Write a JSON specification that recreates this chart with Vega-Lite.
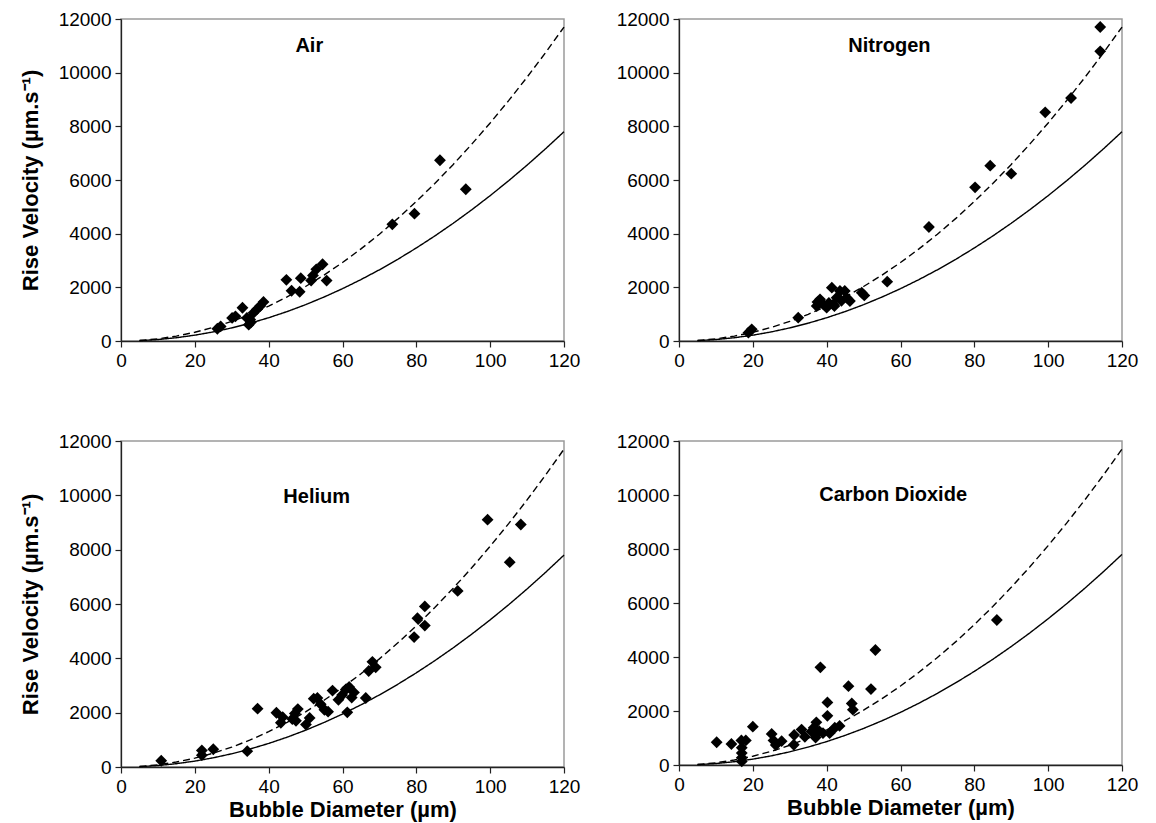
{
  "$schema": "https://vega.github.io/schema/vega-lite/v6.json",
  "background": "white",
  "padding": {"left": 18, "top": 9, "right": 5, "bottom": 2},
  "bounds": "flush",
  "columns": 2,
  "spacing": {"row": 100, "column": 115},
  "config": {
    "view": {"stroke": "#9a9a9a", "strokeWidth": 1.5},
    "font": "Liberation Sans",
    "axis": {
      "grid": false,
      "domainColor": "#222",
      "domainWidth": 1.3,
      "tickColor": "#222",
      "tickWidth": 1.2,
      "tickSize": 6,
      "labelPadding": 4,
      "labelFont": "Liberation Sans",
      "labelFontSize": 19,
      "labelColor": "black",
      "labelFlush": false,
      "labelOverlap": false,
      "titleFont": "Liberation Sans",
      "titleFontSize": 22,
      "titleFontWeight": "bold",
      "titleColor": "black"
    }
  },
  "datasets": {
    "curves": [
      {"d": 5, "v": 14, "model": "Stokes"}, {"d": 10, "v": 54, "model": "Stokes"}, {"d": 15, "v": 122, "model": "Stokes"}, {"d": 20, "v": 217, "model": "Stokes"}, {"d": 25, "v": 339, "model": "Stokes"}, {"d": 30, "v": 488, "model": "Stokes"}, {"d": 35, "v": 664, "model": "Stokes"}, {"d": 40, "v": 867, "model": "Stokes"}, {"d": 45, "v": 1097, "model": "Stokes"}, {"d": 50, "v": 1354, "model": "Stokes"}, {"d": 55, "v": 1639, "model": "Stokes"}, {"d": 60, "v": 1950, "model": "Stokes"}, {"d": 65, "v": 2289, "model": "Stokes"}, {"d": 70, "v": 2654, "model": "Stokes"}, {"d": 75, "v": 3047, "model": "Stokes"}, {"d": 80, "v": 3467, "model": "Stokes"}, {"d": 85, "v": 3914, "model": "Stokes"}, {"d": 90, "v": 4388, "model": "Stokes"}, {"d": 95, "v": 4889, "model": "Stokes"}, {"d": 100, "v": 5417, "model": "Stokes"}, {"d": 105, "v": 5972, "model": "Stokes"}, {"d": 110, "v": 6554, "model": "Stokes"}, {"d": 115, "v": 7164, "model": "Stokes"}, {"d": 120, "v": 7800, "model": "Stokes"},
      {"d": 5, "v": 20, "model": "Hadamard"}, {"d": 10, "v": 81, "model": "Hadamard"}, {"d": 15, "v": 183, "model": "Hadamard"}, {"d": 20, "v": 325, "model": "Hadamard"}, {"d": 25, "v": 508, "model": "Hadamard"}, {"d": 30, "v": 731, "model": "Hadamard"}, {"d": 35, "v": 995, "model": "Hadamard"}, {"d": 40, "v": 1300, "model": "Hadamard"}, {"d": 45, "v": 1645, "model": "Hadamard"}, {"d": 50, "v": 2031, "model": "Hadamard"}, {"d": 55, "v": 2458, "model": "Hadamard"}, {"d": 60, "v": 2925, "model": "Hadamard"}, {"d": 65, "v": 3433, "model": "Hadamard"}, {"d": 70, "v": 3981, "model": "Hadamard"}, {"d": 75, "v": 4570, "model": "Hadamard"}, {"d": 80, "v": 5200, "model": "Hadamard"}, {"d": 85, "v": 5870, "model": "Hadamard"}, {"d": 90, "v": 6581, "model": "Hadamard"}, {"d": 95, "v": 7333, "model": "Hadamard"}, {"d": 100, "v": 8125, "model": "Hadamard"}, {"d": 105, "v": 8958, "model": "Hadamard"}, {"d": 110, "v": 9831, "model": "Hadamard"}, {"d": 115, "v": 10745, "model": "Hadamard"}, {"d": 120, "v": 11700, "model": "Hadamard"}
    ],
    "labels": [
      {"gas": "Air", "d": 51, "v": 11000},
      {"gas": "Nitrogen", "d": 57, "v": 11000},
      {"gas": "Helium", "d": 53, "v": 9950},
      {"gas": "Carbon Dioxide", "d": 58, "v": 10000}
    ],
    "pts": [
      {"gas": "Air", "d": 26.1, "v": 456}, {"gas": "Air", "d": 27.0, "v": 544}, {"gas": "Air", "d": 30.1, "v": 861}, {"gas": "Air", "d": 31.0, "v": 920}, {"gas": "Air", "d": 32.9, "v": 1240}, {"gas": "Air", "d": 34.6, "v": 608}, {"gas": "Air", "d": 35.2, "v": 700}, {"gas": "Air", "d": 34.1, "v": 861}, {"gas": "Air", "d": 35.0, "v": 797}, {"gas": "Air", "d": 35.9, "v": 1051}, {"gas": "Air", "d": 36.8, "v": 1177}, {"gas": "Air", "d": 37.7, "v": 1304}, {"gas": "Air", "d": 38.6, "v": 1456}, {"gas": "Air", "d": 44.8, "v": 2278}, {"gas": "Air", "d": 46.2, "v": 1873}, {"gas": "Air", "d": 48.4, "v": 1835}, {"gas": "Air", "d": 48.7, "v": 2342}, {"gas": "Air", "d": 51.5, "v": 2253}, {"gas": "Air", "d": 52.0, "v": 2443}, {"gas": "Air", "d": 52.9, "v": 2671}, {"gas": "Air", "d": 54.6, "v": 2861}, {"gas": "Air", "d": 55.7, "v": 2253}, {"gas": "Air", "d": 73.5, "v": 4348}, {"gas": "Air", "d": 79.5, "v": 4745}, {"gas": "Air", "d": 86.4, "v": 6735}, {"gas": "Air", "d": 93.4, "v": 5654},
      {"gas": "Nitrogen", "d": 19.7, "v": 435}, {"gas": "Nitrogen", "d": 18.8, "v": 311}, {"gas": "Nitrogen", "d": 32.3, "v": 870}, {"gas": "Nitrogen", "d": 38.2, "v": 1553}, {"gas": "Nitrogen", "d": 37.3, "v": 1304}, {"gas": "Nitrogen", "d": 39.1, "v": 1366}, {"gas": "Nitrogen", "d": 41.4, "v": 1988}, {"gas": "Nitrogen", "d": 40.0, "v": 1242}, {"gas": "Nitrogen", "d": 41.8, "v": 1366}, {"gas": "Nitrogen", "d": 42.7, "v": 1615}, {"gas": "Nitrogen", "d": 43.6, "v": 1863}, {"gas": "Nitrogen", "d": 44.9, "v": 1863}, {"gas": "Nitrogen", "d": 45.4, "v": 1615}, {"gas": "Nitrogen", "d": 46.3, "v": 1491}, {"gas": "Nitrogen", "d": 49.5, "v": 1801}, {"gas": "Nitrogen", "d": 37.5, "v": 1450}, {"gas": "Nitrogen", "d": 40.6, "v": 1420}, {"gas": "Nitrogen", "d": 42.1, "v": 1300}, {"gas": "Nitrogen", "d": 44.0, "v": 1500}, {"gas": "Nitrogen", "d": 50.2, "v": 1700}, {"gas": "Nitrogen", "d": 56.4, "v": 2211}, {"gas": "Nitrogen", "d": 67.7, "v": 4248}, {"gas": "Nitrogen", "d": 80.2, "v": 5727}, {"gas": "Nitrogen", "d": 84.3, "v": 6534}, {"gas": "Nitrogen", "d": 90.0, "v": 6236}, {"gas": "Nitrogen", "d": 99.2, "v": 8522}, {"gas": "Nitrogen", "d": 106.2, "v": 9056}, {"gas": "Nitrogen", "d": 114.1, "v": 10795}, {"gas": "Nitrogen", "d": 114.1, "v": 11702},
      {"gas": "Helium", "d": 10.9, "v": 231}, {"gas": "Helium", "d": 21.9, "v": 611}, {"gas": "Helium", "d": 21.9, "v": 435}, {"gas": "Helium", "d": 25.0, "v": 652}, {"gas": "Helium", "d": 34.2, "v": 584}, {"gas": "Helium", "d": 37.0, "v": 2147}, {"gas": "Helium", "d": 42.1, "v": 1997}, {"gas": "Helium", "d": 43.3, "v": 1630}, {"gas": "Helium", "d": 43.8, "v": 1834}, {"gas": "Helium", "d": 46.4, "v": 1766}, {"gas": "Helium", "d": 47.1, "v": 1970}, {"gas": "Helium", "d": 47.9, "v": 2133}, {"gas": "Helium", "d": 47.4, "v": 1698}, {"gas": "Helium", "d": 50.1, "v": 1562}, {"gas": "Helium", "d": 51.1, "v": 1807}, {"gas": "Helium", "d": 52.2, "v": 2514}, {"gas": "Helium", "d": 53.2, "v": 2541}, {"gas": "Helium", "d": 54.1, "v": 2310}, {"gas": "Helium", "d": 55.1, "v": 2106}, {"gas": "Helium", "d": 56.1, "v": 2038}, {"gas": "Helium", "d": 57.3, "v": 2813}, {"gas": "Helium", "d": 58.9, "v": 2473}, {"gas": "Helium", "d": 59.9, "v": 2649}, {"gas": "Helium", "d": 60.9, "v": 2853}, {"gas": "Helium", "d": 61.3, "v": 2011}, {"gas": "Helium", "d": 61.8, "v": 2948}, {"gas": "Helium", "d": 62.5, "v": 2554}, {"gas": "Helium", "d": 63.1, "v": 2745}, {"gas": "Helium", "d": 66.3, "v": 2541}, {"gas": "Helium", "d": 67.1, "v": 3533}, {"gas": "Helium", "d": 68.1, "v": 3872}, {"gas": "Helium", "d": 69.0, "v": 3668}, {"gas": "Helium", "d": 79.4, "v": 4783}, {"gas": "Helium", "d": 80.3, "v": 5476}, {"gas": "Helium", "d": 82.3, "v": 5204}, {"gas": "Helium", "d": 82.3, "v": 5910}, {"gas": "Helium", "d": 91.2, "v": 6481}, {"gas": "Helium", "d": 99.3, "v": 9103}, {"gas": "Helium", "d": 105.3, "v": 7541}, {"gas": "Helium", "d": 108.3, "v": 8927},
      {"gas": "Carbon Dioxide", "d": 10.2, "v": 844}, {"gas": "Carbon Dioxide", "d": 14.2, "v": 777}, {"gas": "Carbon Dioxide", "d": 16.9, "v": 911}, {"gas": "Carbon Dioxide", "d": 18.1, "v": 911}, {"gas": "Carbon Dioxide", "d": 17.0, "v": 643}, {"gas": "Carbon Dioxide", "d": 17.0, "v": 442}, {"gas": "Carbon Dioxide", "d": 17.0, "v": 268}, {"gas": "Carbon Dioxide", "d": 17.0, "v": 134}, {"gas": "Carbon Dioxide", "d": 20.0, "v": 1420}, {"gas": "Carbon Dioxide", "d": 25.1, "v": 1152}, {"gas": "Carbon Dioxide", "d": 25.6, "v": 911}, {"gas": "Carbon Dioxide", "d": 26.2, "v": 737}, {"gas": "Carbon Dioxide", "d": 27.8, "v": 884}, {"gas": "Carbon Dioxide", "d": 31.2, "v": 1112}, {"gas": "Carbon Dioxide", "d": 31.1, "v": 750}, {"gas": "Carbon Dioxide", "d": 33.2, "v": 1312}, {"gas": "Carbon Dioxide", "d": 34.1, "v": 1045}, {"gas": "Carbon Dioxide", "d": 35.9, "v": 1245}, {"gas": "Carbon Dioxide", "d": 37.2, "v": 1580}, {"gas": "Carbon Dioxide", "d": 37.0, "v": 1018}, {"gas": "Carbon Dioxide", "d": 36.5, "v": 1380}, {"gas": "Carbon Dioxide", "d": 38.0, "v": 1250}, {"gas": "Carbon Dioxide", "d": 38.3, "v": 3616}, {"gas": "Carbon Dioxide", "d": 39.0, "v": 1178}, {"gas": "Carbon Dioxide", "d": 40.2, "v": 2317}, {"gas": "Carbon Dioxide", "d": 40.2, "v": 1821}, {"gas": "Carbon Dioxide", "d": 40.8, "v": 1178}, {"gas": "Carbon Dioxide", "d": 42.2, "v": 1379}, {"gas": "Carbon Dioxide", "d": 43.5, "v": 1446}, {"gas": "Carbon Dioxide", "d": 45.9, "v": 2919}, {"gas": "Carbon Dioxide", "d": 46.8, "v": 2277}, {"gas": "Carbon Dioxide", "d": 47.1, "v": 2049}, {"gas": "Carbon Dioxide", "d": 52.0, "v": 2812}, {"gas": "Carbon Dioxide", "d": 53.2, "v": 4259}, {"gas": "Carbon Dioxide", "d": 86.1, "v": 5370}
    ]
  },
  "concat": [
    {
      "width": 443, "height": 322,
      "layer": [
        {"data": {"name": "curves"}, "mark": {"type": "line", "color": "black", "strokeWidth": 1.4},
         "encoding": {
           "x": {"field": "d", "type": "quantitative", "scale": {"domain": [0, 120], "nice": false}, "axis": {"values": [0, 20, 40, 60, 80, 100, 120], "title": null}},
           "y": {"field": "v", "type": "quantitative", "scale": {"domain": [0, 12000], "nice": false}, "axis": {"values": [0, 2000, 4000, 6000, 8000, 10000, 12000], "format": "d", "title": "Rise Velocity (µm.s⁻¹)", "titlePadding": 16}},
           "strokeDash": {"field": "model", "type": "nominal", "scale": {"domain": ["Stokes", "Hadamard"], "range": [[1, 0], [7, 4]]}, "legend": null}}},
        {"data": {"name": "pts"}, "transform": [{"filter": "datum.gas === 'Air'"}],
         "mark": {"type": "point", "shape": "diamond", "filled": true, "color": "black", "opacity": 1, "size": 140},
         "encoding": {"x": {"field": "d", "type": "quantitative"}, "y": {"field": "v", "type": "quantitative"}}},
        {"data": {"name": "labels"}, "transform": [{"filter": "datum.gas === 'Air'"}],
         "mark": {"type": "text", "font": "Liberation Sans", "fontWeight": "bold", "fontSize": 20, "color": "black", "baseline": "middle"},
         "encoding": {"x": {"field": "d", "type": "quantitative"}, "y": {"field": "v", "type": "quantitative"}, "text": {"field": "gas"}}}
      ]
    },
    {
      "width": 443, "height": 322,
      "layer": [
        {"data": {"name": "curves"}, "mark": {"type": "line", "color": "black", "strokeWidth": 1.4},
         "encoding": {
           "x": {"field": "d", "type": "quantitative", "scale": {"domain": [0, 120], "nice": false}, "axis": {"values": [0, 20, 40, 60, 80, 100, 120], "title": null}},
           "y": {"field": "v", "type": "quantitative", "scale": {"domain": [0, 12000], "nice": false}, "axis": {"values": [0, 2000, 4000, 6000, 8000, 10000, 12000], "format": "d", "title": null}},
           "strokeDash": {"field": "model", "type": "nominal", "scale": {"domain": ["Stokes", "Hadamard"], "range": [[1, 0], [7, 4]]}, "legend": null}}},
        {"data": {"name": "pts"}, "transform": [{"filter": "datum.gas === 'Nitrogen'"}],
         "mark": {"type": "point", "shape": "diamond", "filled": true, "color": "black", "opacity": 1, "size": 140},
         "encoding": {"x": {"field": "d", "type": "quantitative"}, "y": {"field": "v", "type": "quantitative"}}},
        {"data": {"name": "labels"}, "transform": [{"filter": "datum.gas === 'Nitrogen'"}],
         "mark": {"type": "text", "font": "Liberation Sans", "fontWeight": "bold", "fontSize": 20, "color": "black", "baseline": "middle"},
         "encoding": {"x": {"field": "d", "type": "quantitative"}, "y": {"field": "v", "type": "quantitative"}, "text": {"field": "gas"}}}
      ]
    },
    {
      "width": 443, "height": 326,
      "layer": [
        {"data": {"name": "curves"}, "mark": {"type": "line", "color": "black", "strokeWidth": 1.4},
         "encoding": {
           "x": {"field": "d", "type": "quantitative", "scale": {"domain": [0, 120], "nice": false}, "axis": {"values": [0, 20, 40, 60, 80, 100, 120], "title": "Bubble Diameter (µm)", "titlePadding": 3}},
           "y": {"field": "v", "type": "quantitative", "scale": {"domain": [0, 12000], "nice": false}, "axis": {"values": [0, 2000, 4000, 6000, 8000, 10000, 12000], "format": "d", "title": "Rise Velocity (µm.s⁻¹)", "titlePadding": 16}},
           "strokeDash": {"field": "model", "type": "nominal", "scale": {"domain": ["Stokes", "Hadamard"], "range": [[1, 0], [7, 4]]}, "legend": null}}},
        {"data": {"name": "pts"}, "transform": [{"filter": "datum.gas === 'Helium'"}],
         "mark": {"type": "point", "shape": "diamond", "filled": true, "color": "black", "opacity": 1, "size": 140},
         "encoding": {"x": {"field": "d", "type": "quantitative"}, "y": {"field": "v", "type": "quantitative"}}},
        {"data": {"name": "labels"}, "transform": [{"filter": "datum.gas === 'Helium'"}],
         "mark": {"type": "text", "font": "Liberation Sans", "fontWeight": "bold", "fontSize": 20, "color": "black", "baseline": "middle"},
         "encoding": {"x": {"field": "d", "type": "quantitative"}, "y": {"field": "v", "type": "quantitative"}, "text": {"field": "gas"}}}
      ]
    },
    {
      "width": 443, "height": 324,
      "layer": [
        {"data": {"name": "curves"}, "mark": {"type": "line", "color": "black", "strokeWidth": 1.4},
         "encoding": {
           "x": {"field": "d", "type": "quantitative", "scale": {"domain": [0, 120], "nice": false}, "axis": {"values": [0, 20, 40, 60, 80, 100, 120], "title": "Bubble Diameter (µm)", "titlePadding": 3}},
           "y": {"field": "v", "type": "quantitative", "scale": {"domain": [0, 12000], "nice": false}, "axis": {"values": [0, 2000, 4000, 6000, 8000, 10000, 12000], "format": "d", "title": null}},
           "strokeDash": {"field": "model", "type": "nominal", "scale": {"domain": ["Stokes", "Hadamard"], "range": [[1, 0], [7, 4]]}, "legend": null}}},
        {"data": {"name": "pts"}, "transform": [{"filter": "datum.gas === 'Carbon Dioxide'"}],
         "mark": {"type": "point", "shape": "diamond", "filled": true, "color": "black", "opacity": 1, "size": 140},
         "encoding": {"x": {"field": "d", "type": "quantitative"}, "y": {"field": "v", "type": "quantitative"}}},
        {"data": {"name": "labels"}, "transform": [{"filter": "datum.gas === 'Carbon Dioxide'"}],
         "mark": {"type": "text", "font": "Liberation Sans", "fontWeight": "bold", "fontSize": 20, "color": "black", "baseline": "middle"},
         "encoding": {"x": {"field": "d", "type": "quantitative"}, "y": {"field": "v", "type": "quantitative"}, "text": {"field": "gas"}}}
      ]
    }
  ]
}
